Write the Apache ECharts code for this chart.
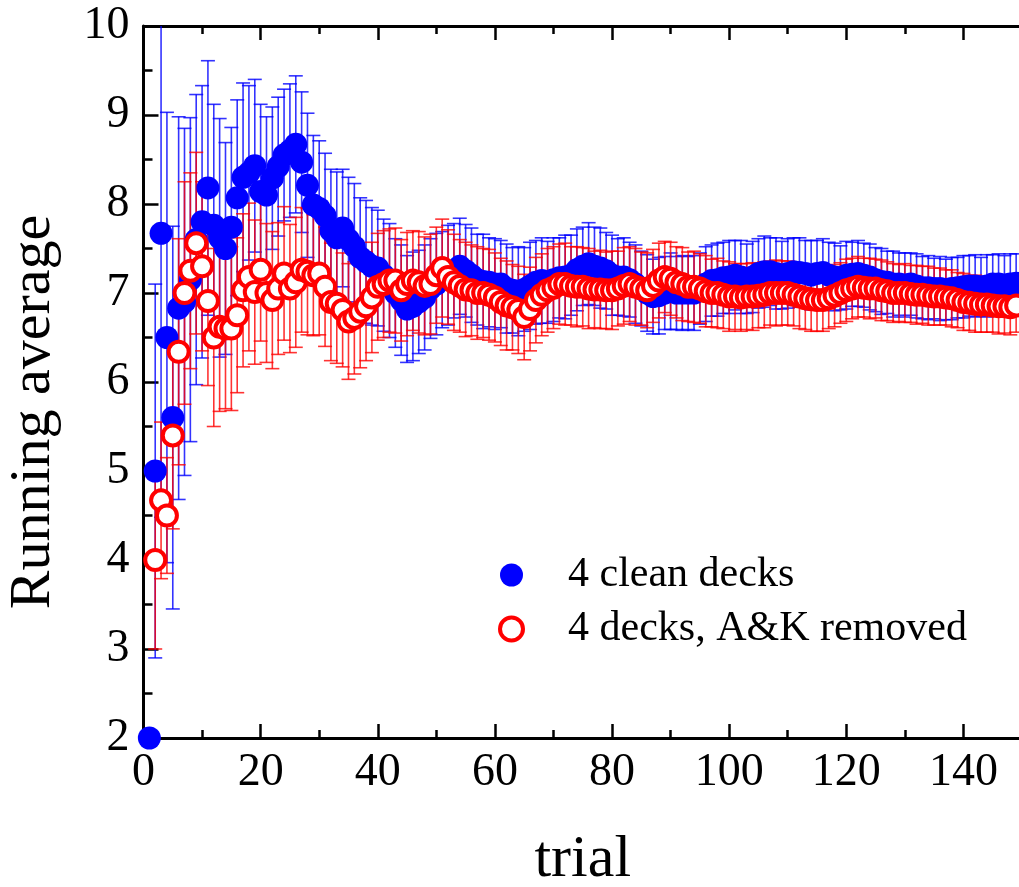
<!DOCTYPE html>
<html>
<head>
<meta charset="utf-8">
<script src="https://cdn.jsdelivr.net/npm/echarts@6/dist/echarts.min.js"></script>
<style>
  html, body { margin: 0; padding: 0; background: #fff; }
  #chart { width: 1019px; height: 887px; }
</style>
</head>
<body>
<div id="chart"></div>
<script>
// trial number 1..149
const trials = [];
for (let t = 1; t <= 149; t++) trials.push(t);

// running average, 4 clean decks
const cleanAvg = [
  2.0, 5.0, 7.67, 6.5, 5.6, 6.83, 6.9, 7.15, 7.6, 7.8,
  8.18, 7.76, 7.62, 7.5, 7.74, 8.07, 8.3, 8.35, 8.43, 8.14,
  8.1, 8.29, 8.42, 8.55, 8.6, 8.67, 8.47, 8.21, 7.99, 7.95,
  7.87, 7.7, 7.62, 7.73, 7.6, 7.52, 7.4, 7.35, 7.3, 7.28,
  7.2, 7.14, 7.0, 6.92, 6.82, 6.85, 6.9, 6.95, 7.05, 7.1,
  7.15, 7.2, 7.25, 7.3, 7.25, 7.2, 7.15, 7.13, 7.12, 7.1,
  7.1, 7.05, 7.03, 7.02, 7.04, 7.08, 7.12, 7.14, 7.12, 7.15,
  7.17, 7.18, 7.2, 7.26, 7.3, 7.33, 7.3, 7.28, 7.25, 7.2,
  7.18, 7.18, 7.15, 7.1, 7.05, 7.0, 6.96, 6.97, 7.0, 7.02,
  7.0, 7.0, 7.0, 7.0, 7.05, 7.1, 7.14, 7.15, 7.17, 7.18,
  7.2, 7.18, 7.16, 7.18, 7.22, 7.24, 7.24, 7.22, 7.2, 7.22,
  7.24, 7.23, 7.22, 7.2, 7.22, 7.23, 7.2, 7.18, 7.17, 7.2,
  7.21, 7.22, 7.2, 7.18, 7.15, 7.13, 7.12, 7.1, 7.1, 7.09,
  7.1, 7.08, 7.06, 7.06, 7.05, 7.05, 7.04, 7.05, 7.06, 7.07,
  7.08, 7.08, 7.07, 7.08, 7.1, 7.1, 7.09, 7.1, 7.11
];
const cleanErr = [
  0, 2.1, 3.19, 2.53, 2.15, 2.15, 1.95, 1.82, 1.63, 1.53,
  1.43, 1.36, 1.34, 1.19, 1.12, 1.1, 1.06, 0.98, 0.97, 0.98,
  0.88, 0.8, 0.78, 0.74, 0.75, 0.77, 0.79, 0.81, 0.78, 0.76,
  0.7, 0.69, 0.74, 0.66, 0.7, 0.71, 0.67, 0.69, 0.66, 0.65,
  0.63, 0.64, 0.61, 0.62, 0.6, 0.61, 0.58, 0.59, 0.56, 0.57,
  0.54, 0.56, 0.53, 0.54, 0.52, 0.53, 0.51, 0.53, 0.5, 0.51,
  0.49, 0.5, 0.48, 0.5, 0.47, 0.49, 0.47, 0.48, 0.46, 0.47,
  0.45, 0.47, 0.45, 0.46, 0.44, 0.46, 0.44, 0.45, 0.43, 0.45,
  0.43, 0.44, 0.42, 0.44, 0.42, 0.43, 0.42, 0.43, 0.41, 0.43,
  0.41, 0.42, 0.41, 0.42, 0.4, 0.42, 0.4, 0.41, 0.4, 0.41,
  0.39, 0.41, 0.39, 0.4, 0.39, 0.4, 0.38, 0.4, 0.38, 0.39,
  0.38, 0.39, 0.37, 0.39, 0.37, 0.38, 0.37, 0.38, 0.36, 0.38,
  0.36, 0.37, 0.36, 0.37, 0.36, 0.37, 0.35, 0.37, 0.35, 0.36,
  0.35, 0.36, 0.35, 0.36, 0.34, 0.36, 0.34, 0.35, 0.34, 0.35,
  0.34, 0.35, 0.33, 0.35, 0.33, 0.34, 0.33, 0.34, 0.33
];

// running average, 4 decks with aces and kings removed
const removedAvg = [
  null, 4.0, 4.67, 4.5, 5.4, 6.34, 7.0, 7.25, 7.56, 7.3,
  6.91, 6.5, 6.62, 6.6, 6.6, 6.75, 7.03, 7.18, 7.01, 7.26,
  7.0, 6.92, 7.05, 7.22, 7.05, 7.12, 7.26, 7.24, 7.2, 7.22,
  7.07, 6.9, 6.88, 6.81, 6.68, 6.72, 6.79, 6.85, 6.95, 7.07,
  7.1, 7.14, 7.14, 7.03, 7.1, 7.14, 7.12, 7.08, 7.1, 7.2,
  7.28, 7.18, 7.12, 7.08, 7.04, 7.03, 7.0, 7.0, 6.98, 6.95,
  6.9, 6.86, 6.84, 6.81, 6.73, 6.82, 6.92, 6.98, 7.03, 7.06,
  7.1, 7.1, 7.08, 7.07, 7.07, 7.05, 7.04, 7.04, 7.03, 7.03,
  7.05, 7.08, 7.1, 7.07, 7.05, 7.03, 7.08, 7.14, 7.18, 7.16,
  7.12, 7.1, 7.07, 7.07, 7.05, 7.02, 7.0, 7.0, 6.98, 6.96,
  6.96, 6.95, 6.96, 6.96, 6.97, 6.98, 7.0, 7.0, 7.0, 7.0,
  6.98, 6.96, 6.94, 6.93, 6.92, 6.92, 6.94, 6.97, 7.0, 7.03,
  7.05, 7.07, 7.06, 7.05, 7.05, 7.03, 7.02, 7.0, 7.0, 7.0,
  6.99, 6.98, 6.98, 6.97, 6.96, 6.96, 6.95, 6.94, 6.92, 6.9,
  6.89, 6.88, 6.87, 6.87, 6.86, 6.85, 6.85, 6.84, 6.86
];
const removedErr = [
  0, 1.0, 0.88, 0.65, 1.05, 1.27, 1.25, 1.1, 1.02, 0.95,
  0.95, 1.0, 0.95, 0.9, 0.92, 0.87, 0.86, 0.83, 0.81, 0.8,
  0.78, 0.77, 0.74, 0.75, 0.72, 0.73, 0.7, 0.71, 0.68, 0.69,
  0.67, 0.66, 0.67, 0.64, 0.65, 0.63, 0.63, 0.61, 0.62, 0.6,
  0.6, 0.58, 0.59, 0.57, 0.58, 0.56, 0.57, 0.55, 0.56, 0.54,
  0.55, 0.53, 0.54, 0.52, 0.53, 0.51, 0.52, 0.5, 0.51, 0.5,
  0.49, 0.5, 0.48, 0.49, 0.48, 0.47, 0.48, 0.46, 0.47, 0.46,
  0.45, 0.46, 0.44, 0.45, 0.44, 0.45, 0.43, 0.44, 0.43, 0.44,
  0.42, 0.43, 0.42, 0.43, 0.41, 0.42, 0.41, 0.42, 0.4, 0.41,
  0.4, 0.41, 0.39, 0.4, 0.39, 0.4, 0.38, 0.39, 0.38, 0.39,
  0.37, 0.38, 0.37, 0.38, 0.36, 0.37, 0.36, 0.37, 0.36, 0.36,
  0.35, 0.36, 0.35, 0.36, 0.35, 0.35, 0.34, 0.35, 0.34, 0.35,
  0.34, 0.34, 0.33, 0.34, 0.33, 0.34, 0.33, 0.33, 0.32, 0.33,
  0.32, 0.33, 0.32, 0.33, 0.32, 0.32, 0.31, 0.32, 0.31, 0.32,
  0.31, 0.32, 0.31, 0.31, 0.3, 0.31, 0.3, 0.31, 0.3
];

const xTicks = [0, 20, 40, 60, 80, 100, 120, 140];
const yTicks = [2, 3, 4, 5, 6, 7, 8, 9, 10];

const FONT = '"Liberation Serif", "Times New Roman", serif';
const BLUE = '#0000ff';
const RED = '#ff0000';

function pointData(avg) {
  const out = [];
  trials.forEach((t, i) => {
    if (avg[i] != null) out.push([t, avg[i]]);
  });
  return out;
}

function errData(avg, err) {
  const out = [];
  trials.forEach((t, i) => {
    if (avg[i] != null && err[i] > 0) out.push([t, avg[i] - err[i], avg[i] + err[i]]);
  });
  return out;
}

function errorBars(name, avg, err, color) {
  return {
    type: 'custom',
    name: name,
    clip: true,
    silent: true,
    data: errData(avg, err),
    encode: { x: 0, y: [1, 2] },
    renderItem: function (params, api) {
      const x = api.value(0);
      const lo = api.coord([x, api.value(1)]);
      const hi = api.coord([x, api.value(2)]);
      const half = 7;
      const style = { stroke: color, lineWidth: 1.6 };
      return {
        type: 'group',
        children: [
          { type: 'line', shape: { x1: hi[0], y1: hi[1], x2: lo[0], y2: lo[1] }, style: style },
          { type: 'line', shape: { x1: hi[0] - half, y1: hi[1], x2: hi[0] + half, y2: hi[1] }, style: style },
          { type: 'line', shape: { x1: lo[0] - half, y1: lo[1], x2: lo[0] + half, y2: lo[1] }, style: style }
        ]
      };
    }
  };
}

const axisLine = { show: true, onZero: false, lineStyle: { color: '#000', width: 3 } };
const tickStyle = { color: '#000', width: 2.5 };

// major axis (interval 20, labels) and minor axis (interval 10, short ticks only)
function xAxisDef(position, major) {
  return {
    type: 'value',
    position: position,
    min: 0,
    max: 150,
    interval: major ? 20 : 10,
    axisLine: major ? axisLine : { show: false },
    axisTick: { show: true, inside: true, length: major ? 14 : 8, lineStyle: tickStyle },
    splitLine: { show: false },
    axisLabel: {
      show: major && position === 'bottom',
      color: '#000',
      fontFamily: FONT,
      fontSize: 46,
      margin: 12,
      formatter: v => (xTicks.indexOf(v) >= 0 ? String(v) : '')
    },
    name: major && position === 'bottom' ? 'trial' : '',
    nameLocation: 'middle',
    nameGap: 92,
    nameTextStyle: { color: '#000', fontFamily: FONT, fontSize: 60 }
  };
}

const chart = echarts.init(document.getElementById('chart'), null, { renderer: 'canvas' });

chart.setOption({
  backgroundColor: '#fff',
  animation: false,
  grid: { left: 143.5, top: 26, right: -3, bottom: 149, outerBoundsMode: 'none' },
  xAxis: [
    xAxisDef('bottom', true),
    xAxisDef('bottom', false),
    xAxisDef('top', true),
    xAxisDef('top', false)
  ],
  yAxis: {
    type: 'value',
    min: yTicks[0],
    max: yTicks[yTicks.length - 1],
    interval: 1,
    axisLine: axisLine,
    axisTick: { show: true, inside: true, length: 15, lineStyle: tickStyle },
    minorTick: { show: true, splitNumber: 2, length: 9, lineStyle: tickStyle },
    splitLine: { show: false },
    axisLabel: { color: '#000', fontFamily: FONT, fontSize: 46, margin: 14 },
    name: 'Running average',
    nameLocation: 'middle',
    nameGap: 81,
    nameTextStyle: { color: '#000', fontFamily: FONT, fontSize: 58, padding: [0, 60, 0, 0] }
  },
  legend: {
    orient: 'vertical',
    left: 493,
    top: 549,
    itemWidth: 23,
    itemHeight: 23,
    itemGap: 12,
    textStyle: { color: '#000', fontFamily: FONT, fontSize: 42, lineHeight: 42, padding: [0, 0, 0, 40] },
    data: [
      { name: '4 clean decks', icon: 'circle', itemStyle: { color: BLUE, borderWidth: 0 } },
      { name: '4 decks, A&K removed', icon: 'circle', itemStyle: { color: '#fff', borderColor: RED, borderWidth: 4 } }
    ]
  },
  series: [
    errorBars('clean err', cleanAvg, cleanErr, 'rgba(0,0,255,0.8)'),
    {
      type: 'scatter',
      name: '4 clean decks',
      data: pointData(cleanAvg),
      symbol: 'circle',
      symbolSize: 23,
      clip: true,
      itemStyle: { color: BLUE, opacity: 1 }
    },
    errorBars('removed err', removedAvg, removedErr, 'rgba(255,0,0,0.8)'),
    {
      type: 'scatter',
      name: '4 decks, A&K removed',
      data: pointData(removedAvg),
      symbol: 'circle',
      symbolSize: 20,
      clip: true,
      itemStyle: { color: '#fff', borderColor: RED, borderWidth: 4, opacity: 1 }
    }
  ]
});
</script>
</body>
</html>
